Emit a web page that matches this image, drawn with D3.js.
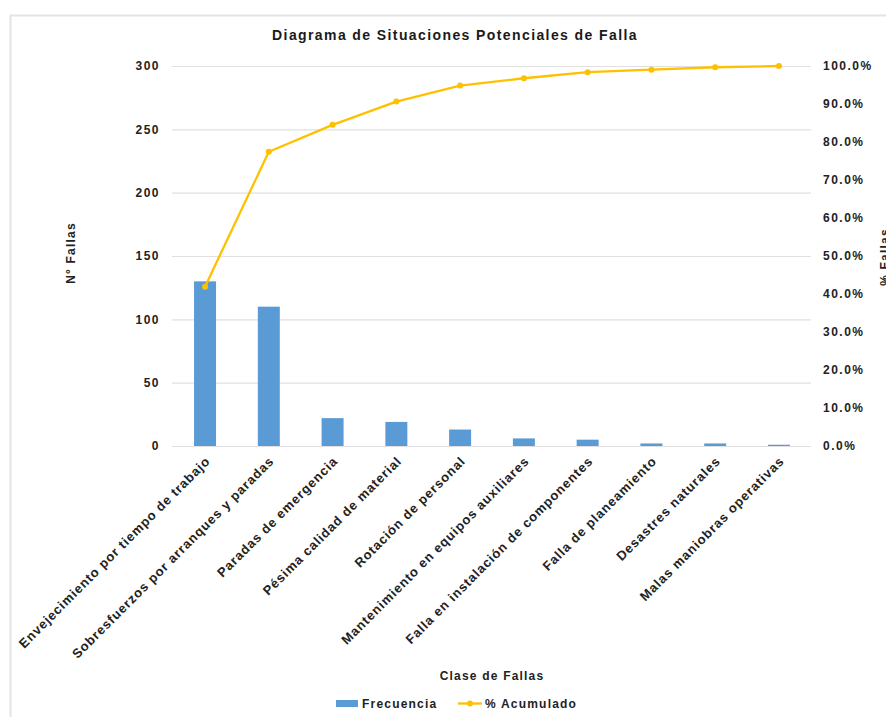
<!DOCTYPE html>
<html>
<head>
<meta charset="utf-8">
<script src="https://cdn.jsdelivr.net/npm/d3@7"></script>
<style>
  html, body { margin: 0; padding: 0; background: #fff; }
  svg { display: block; font-family: "Liberation Sans", Arial, sans-serif; }
</style>
</head>
<body>
<svg id="chart" width="886" height="717"></svg>
<script>
// Failure classes (x axis)
const categories = [
  "Envejecimiento por tiempo de trabajo",
  "Sobresfuerzos por arranques y paradas",
  "Paradas de emergencia",
  "Pésima calidad de material",
  "Rotación de personal",
  "Mantenimiento en equipos auxiliares",
  "Falla en instalación de componentes",
  "Falla de planeamiento",
  "Desastres naturales",
  "Malas maniobras operativas"
];
// Frequency of each failure class
const frecuencia = [130, 110, 22, 19, 13, 6, 5, 2, 2, 1];
// Axis ticks
const leftTicks = [0, 50, 100, 150, 200, 250, 300];
const rightTicks = [0, 0.1, 0.2, 0.3, 0.4, 0.5, 0.6, 0.7, 0.8, 0.9, 1.0];

// Cumulative percentage built from the frequencies
const total = d3.sum(frecuencia);
const acumulado = [];
frecuencia.reduce((acc, v) => { acc += v; acumulado.push(acc / total); return acc; }, 0);

const svg = d3.select("#chart");
const plot = { left: 173, right: 811, top: 66, bottom: 446 };
const ink = "#222";

// Chart frame
svg.append("rect")
  .attr("x", 10.5).attr("y", 15.5)
  .attr("width", 890).attr("height", 720)
  .attr("fill", "#fff").attr("stroke", "#e3e3e3").attr("stroke-width", 2);

const x = d3.scaleBand().domain(categories).range([plot.left, plot.right]).paddingInner(0.655).paddingOuter(0.33);
const yL = d3.scaleLinear().domain([0, 300]).range([plot.bottom, plot.top]);
const yR = d3.scaleLinear().domain([0, 1]).range([plot.bottom, plot.top]);

// Gridlines
svg.append("g").selectAll("line").data(leftTicks).join("line")
  .attr("x1", plot.left - 1).attr("x2", plot.right)
  .attr("y1", d => yL(d) + 0.5).attr("y2", d => yL(d) + 0.5)
  .attr("stroke", "#e0e0e0").attr("stroke-width", 1.2);

// Title
svg.append("text")
  .attr("x", 455).attr("y", 40)
  .attr("text-anchor", "middle")
  .attr("font-size", 14).attr("font-weight", "bold").attr("fill", "#1a1a1a")
  .attr("letter-spacing", 1.4)
  .text("Diagrama de Situaciones Potenciales de Falla");

function styleTicks(sel) {
  sel.selectAll("text").attr("font-size", 12).attr("font-weight", "bold").attr("fill", ink)
    .attr("font-family", "Liberation Sans, Arial, sans-serif")
    .attr("letter-spacing", 1.5);
}

// Left axis
const axL = svg.append("g").attr("transform", `translate(${plot.left - 13},0)`)
  .call(d3.axisLeft(yL).tickValues(leftTicks).tickSize(0).tickPadding(0).tickFormat(d3.format("d")));
axL.select(".domain").remove();
styleTicks(axL);

// Right axis
const axR = svg.append("g").attr("transform", `translate(${plot.right + 12},0)`)
  .call(d3.axisRight(yR).tickValues(rightTicks).tickSize(0).tickPadding(0).tickFormat(d3.format(".1%")));
axR.select(".domain").remove();
styleTicks(axR);

// Bars
svg.append("g").selectAll("rect").data(frecuencia).join("rect")
  .attr("x", (d, i) => x(categories[i]))
  .attr("width", x.bandwidth())
  .attr("y", d => yL(d))
  .attr("height", d => yL(0) - yL(d))
  .attr("fill", "#5b9bd5");

// Cumulative line
const cx = i => x(categories[i]) + x.bandwidth() / 2;
svg.append("path")
  .datum(acumulado)
  .attr("fill", "none").attr("stroke", "#ffc000").attr("stroke-width", 2.3)
  .attr("stroke-linejoin", "round")
  .attr("d", d3.line().x((d, i) => cx(i)).y(d => yR(d)));
svg.append("g").selectAll("circle").data(acumulado).join("circle")
  .attr("cx", (d, i) => cx(i)).attr("cy", d => yR(d)).attr("r", 3)
  .attr("fill", "#ffc000");

// Category labels
const axX = svg.append("g").attr("transform", `translate(0,${plot.bottom})`)
  .call(d3.axisBottom(x).tickSize(0).tickPadding(0));
axX.select(".domain").remove();
axX.selectAll("text")
  .attr("font-size", 13).attr("font-weight", "bold").attr("fill", ink)
  .attr("font-family", "Liberation Sans, Arial, sans-serif")
  .attr("letter-spacing", 0.9)
  .attr("text-anchor", "end")
  .attr("dy", null).attr("y", 0)
  .attr("transform", "translate(6,16) rotate(-45)");

// Axis titles
const titleText = (sel) => sel.attr("text-anchor", "middle")
  .attr("font-size", 12).attr("font-weight", "bold").attr("fill", ink)
  .attr("letter-spacing", 1.2);
svg.append("text").attr("transform", "translate(75,253) rotate(-90)").call(titleText).text("N° Fallas");
svg.append("text").attr("transform", "translate(889,257) rotate(-90)").call(titleText).text("% Fallas");
svg.append("text").attr("x", 492).attr("y", 680).call(titleText).text("Clase de Fallas");

// Legend
const lg = svg.append("g");
const legendText = (sel) => sel.attr("font-size", 12).attr("font-weight", "bold").attr("fill", ink)
  .attr("letter-spacing", 1.2);
lg.append("rect").attr("x", 336).attr("y", 700).attr("width", 22).attr("height", 7).attr("fill", "#5b9bd5");
lg.append("text").attr("x", 362).attr("y", 708).call(legendText).text("Frecuencia");
lg.append("line").attr("x1", 458).attr("x2", 482).attr("y1", 703.5).attr("y2", 703.5)
  .attr("stroke", "#ffc000").attr("stroke-width", 2.3);
lg.append("circle").attr("cx", 470).attr("cy", 703.5).attr("r", 3).attr("fill", "#ffc000");
lg.append("text").attr("x", 485).attr("y", 708).call(legendText).text("% Acumulado");
</script>
</body>
</html>
